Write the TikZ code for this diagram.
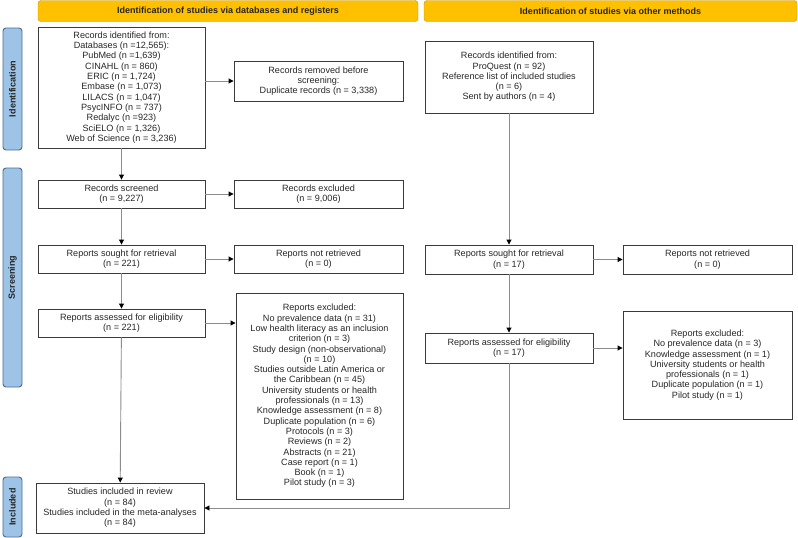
\documentclass[tikz,border=0pt]{standalone}
\usepackage{fontspec}
\setmainfont{Liberation Sans}
\usetikzlibrary{arrows.meta}
\definecolor{bannerfill}{HTML}{FFC000}
\definecolor{bannerline}{HTML}{C99700}
\definecolor{sidefill}{HTML}{9DC3E6}
\definecolor{sideline}{HTML}{4A6F91}
\definecolor{boxline}{HTML}{3A3A3A}
\definecolor{linkgray}{HTML}{8C8C8C}
\begin{document}
\begin{tikzpicture}[x=1pt, y=-1pt,
  every node/.style={font=\fontsize{9.1}{10.3}\selectfont, text=black!85},
  box/.style={draw=boxline, line width=0.9pt, minimum width=167pt, minimum height=28pt, align=center, inner sep=2pt},
  banner/.style={draw=bannerline, fill=bannerfill, rounded corners=3pt, minimum height=21pt, font=\fontsize{9}{10}\selectfont\bfseries},
  sidebar/.style={draw=sideline, fill=sidefill, rounded corners=3pt, line width=0.9pt, minimum height=19pt, inner sep=1pt, rotate=90, font=\fontsize{9}{10}\selectfont\bfseries},
  link/.style={draw=linkgray, line width=0.9pt, -{Triangle[black, length=5pt, width=5pt]}}]
\useasboundingbox (0,0) rectangle (798,538);
% phase banners
\node[banner, minimum width=380pt] (bdb) at (228,11) {Identification of studies via databases and registers};
\node[banner, minimum width=373pt] (bot) at (610.5,11) {Identification of studies via other methods};
% side labels
\node[sidebar, minimum width=122pt] (sid) at (12.5,89) {Identification};
\node[sidebar, minimum width=219pt] (sscr) at (12.5,277.5) {Screening};
\node[sidebar, minimum width=60pt] (sinc) at (12.5,507) {Included};
% databases and registers
\node[box, minimum height=121pt] (ident) at (121.5,87.5) {Records identified from:\\Databases (n =12,565):\\PubMed (n =1,639)\\CINAHL (n = 860)\\ERIC (n = 1,724)\\Embase (n = 1,073)\\LILACS (n = 1,047)\\PsycINFO (n = 737)\\Redalyc (n =923)\\SciELO (n = 1,326)\\Web of Science (n = 3,236)};
\node[box, minimum width=169pt, minimum height=40pt] (removed) at (318.5,81) {Records removed before\\screening:\\Duplicate records (n = 3,338)};
\node[box] (screened) at (121.5,194) {Records screened\\(n = 9,227)};
\node[box, minimum width=169pt] (excluded) at (318.5,194) {Records excluded\\(n = 9,006)};
\node[box] (sought) at (121.5,259) {Reports sought for retrieval\\(n = 221)};
\node[box, minimum width=169pt] (notret) at (318.5,259) {Reports not retrieved\\(n = 0)};
\node[box] (assessed) at (121.5,323) {Reports assessed for eligibility\\(n = 221)};
\node[box, minimum width=167pt, minimum height=206pt] (repexcl) at (319.5,396) {Reports excluded:\\No prevalence data (n = 31)\\Low health literacy as an inclusion\\criterion (n = 3)\\Study design (non-observational)\\(n = 10)\\Studies outside Latin America or\\the Caribbean (n = 45)\\University students or health\\professionals (n = 13)\\Knowledge assessment (n = 8)\\Duplicate population (n = 6)\\Protocols (n = 3)\\Reviews (n = 2)\\Abstracts (n = 21)\\Case report (n = 1)\\Book (n = 1)\\Pilot study (n = 3)};
\node[box, minimum width=168pt, minimum height=50pt] (included) at (120,508) {Studies included in review\\(n = 84)\\Studies included in the meta-analyses\\(n = 84)};
% other methods
\node[box, minimum width=168pt, minimum height=72pt] (oident) at (509,77) {Records identified from:\\ProQuest (n = 92)\\Reference list of included studies\\(n = 6)\\Sent by authors (n = 4)};
\node[box, minimum width=168pt, minimum height=29pt] (osought) at (509,259.5) {Reports sought for retrieval\\(n = 17)};
\node[box, minimum width=169pt, minimum height=29pt] (onotret) at (707.5,259.5) {Reports not retrieved\\(n = 0)};
\node[box, minimum width=168pt, minimum height=30pt] (oassessed) at (509,348) {Reports assessed for eligibility\\(n = 17)};
\node[box, minimum width=169pt, minimum height=108pt] (oexcl) at (707.5,365) {Reports excluded:\\No prevalence data (n = 3)\\Knowledge assessment (n = 1)\\University students or health\\professionals (n = 1)\\Duplicate population (n = 1)\\Pilot study (n = 1)};
% connectors
\draw[link] (ident) -- (screened);
\draw[link] (screened) -- (sought);
\draw[link] (sought) -- (assessed);
\draw[link] (assessed) -- (included);
\draw[link] (ident.east |- removed.west) -- (removed.west);
\draw[link] (screened) -- (excluded);
\draw[link] (sought) -- (notret);
\draw[link] (assessed.east) -- (assessed.east -| repexcl.west);
\draw[link] (oident) -- (osought);
\draw[link] (osought) -- (oassessed);
\draw[link] (osought) -- (onotret);
\draw[link] (oassessed.east) -- (oassessed.east -| oexcl.west);
\draw[link] (oassessed.south) |- (included.east);
\end{tikzpicture}
\end{document}
